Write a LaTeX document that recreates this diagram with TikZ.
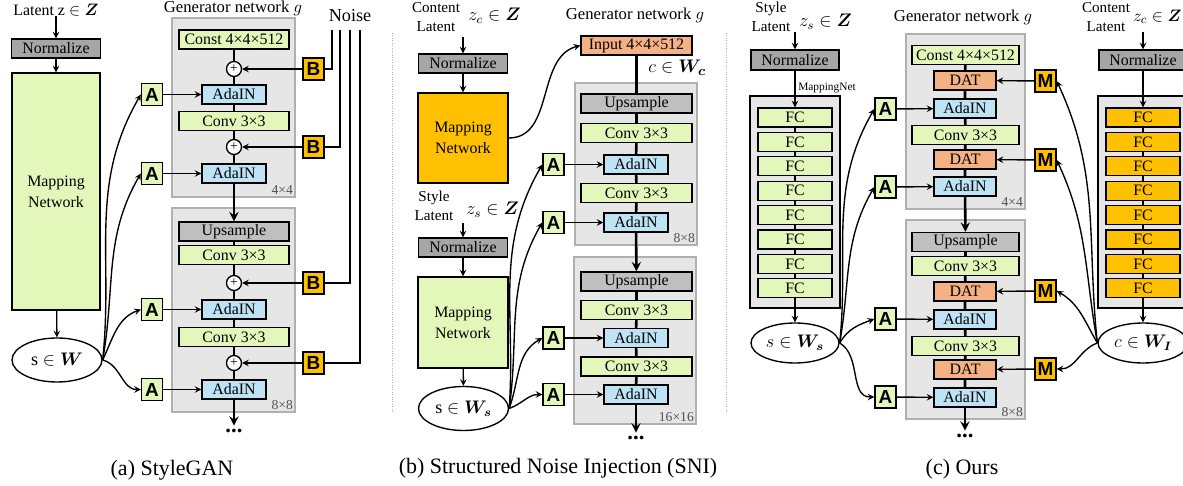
\documentclass[tikz,border=0pt]{standalone}
\usepackage{amsmath,amssymb}
\usepackage{fontspec}
\setmainfont{Liberation Serif}
\setsansfont{Liberation Sans}
\usepackage{tikz}
\usetikzlibrary{arrows,shapes.geometric,positioning}

\newlength\pxu
\setlength\pxu{0.66pt}

\definecolor{lgreen}{HTML}{E4F7BA}
\definecolor{lblue}{HTML}{BDE3F5}
\definecolor{salmon}{HTML}{F4B183}
\definecolor{gold}{HTML}{FFC000}
\definecolor{normgray}{HTML}{A6A6A6}
\definecolor{upgray}{HTML}{BFBFBF}
\definecolor{genfill}{HTML}{E6E6E6}
\definecolor{genborder}{HTML}{B0B0B0}
\definecolor{resgray}{HTML}{505050}

\begin{document}
\begin{tikzpicture}[
            x = 0.66pt, y = -0.66pt, % one unit per pixel, y going down
            > = stealth, % arrow head style
            semithick % line style
        ]

        \tikzstyle{blk}=[draw = black, line width = 0.9pt, inner sep = 0pt,
            minimum height = 19\pxu, font = \fontsize{10.5}{12}\selectfont]
        \tikzstyle{wide}=[minimum width = 110\pxu]
        \tikzstyle{conv}=[blk, fill = lgreen]
        \tikzstyle{ada}=[blk, fill = lblue, minimum width = 64\pxu]
        \tikzstyle{dat}=[blk, fill = salmon, minimum width = 62\pxu]
        \tikzstyle{ups}=[blk, fill = upgray]
        \tikzstyle{norm}=[blk, fill = normgray, minimum width = 89\pxu,
            font = \fontsize{10.5}{12}\selectfont]
        \tikzstyle{lat}=[align = center, inner sep = 0pt,
            font = \fontsize{10}{12.5}\selectfont]
        \tikzstyle{title}=[inner sep = 0pt, font = \fontsize{11}{12}\selectfont]
        \tikzstyle{gen}=[draw = genborder, fill = genfill, line width = 0.8pt, inner sep = 0pt]
        \tikzstyle{res}=[anchor = south east, inner sep = 1.5pt, text = resgray,
            font = \fontsize{9}{10}\selectfont]
        \tikzstyle{plus}=[circle, draw, fill = white, line width = 0.9pt,
            minimum size = 15\pxu, inner sep = 0pt, font = \fontsize{9}{9}\selectfont]
        \tikzstyle{tag}=[draw, line width = 0.9pt, minimum width = 21\pxu,
            minimum height = 22\pxu, inner sep = 0pt,
            font = \sffamily\bfseries\fontsize{12.5}{12}\selectfont]
        \tikzstyle{atag}=[tag, fill = lgreen]
        \tikzstyle{otag}=[tag, fill = gold]
        \tikzstyle{latent}=[ellipse, draw, line width = 0.9pt, inner sep = 0pt,
            minimum width = 90\pxu, minimum height = 44\pxu,
            font = \fontsize{12}{12}\selectfont]
        \tikzstyle{main}=[line width = 1.7pt]
        \tikzstyle{side}=[->, line width = 0.9pt]
        \tikzstyle{wire}=[line width = 0.8pt]
        \tikzstyle{more}=[inner sep = 2pt, font = \bfseries\fontsize{15}{15}\selectfont]
        \tikzstyle{subcap}=[inner sep = 0pt, font = \fontsize{14.5}{16}\selectfont]
        \tikzstyle{sep}=[draw = gray!60, densely dotted, line width = 0.6pt]

        \useasboundingbox (0,0) rectangle (1183,486);

        % (a) StyleGAN
        \node[lat, font = \fontsize{10.5}{12}\selectfont] (lata) at (56,10) {Latent z $\in \boldsymbol{Z}$};
        \node[norm] (norma) at (56,48.5) {Normalize};
        \node[conv, minimum width = 88\pxu, minimum height = 237\pxu, align = center,
            font = \fontsize{10.5}{14}\selectfont] (mapa) at (56,191.5) {Mapping\\Network};
        \node[latent] (sa) at (57,360) {s $\in \boldsymbol{W}$};
        \draw[side] (lata) -- (norma);
        \draw[side] (norma) -- (mapa);
        \draw[side] (mapa) -- (sa);

        \node[title] (gena) at (233,8) {Generator network $g$};
        \node[gen, minimum width = 123\pxu, minimum height = 179\pxu] (ga1) at (233.5,107.5) {};
        \node[res] (ra1) at (ga1.south east) {4×4};
        \node[gen, minimum width = 123\pxu, minimum height = 204\pxu] (ga2) at (233.5,310) {};
        \node[res] (ra2) at (ga2.south east) {8×8};

        \node[conv, wide] (consta) at (234,39.5) {Const 4×4×512};
        \node[plus] (pa1) at (234,69) {+};
        \node[ada] (adaa1) at (234,94.5) {AdaIN};
        \node[conv, wide] (conva1) at (234,121) {Conv 3×3};
        \node[plus] (pa2) at (234,147) {+};
        \node[ada] (adaa2) at (234,173.5) {AdaIN};
        \node[ups, wide] (upsa) at (234,231.5) {Upsample};
        \node[conv, wide] (conva2) at (234,255) {Conv 3×3};
        \node[plus] (pa3) at (234,283) {+};
        \node[ada] (adaa3) at (234,309.5) {AdaIN};
        \node[conv, wide] (conva3) at (234,337) {Conv 3×3};
        \node[plus] (pa4) at (234,363) {+};
        \node[ada] (adaa4) at (234,389.5) {AdaIN};
        \node[more] (dotsa) at (234,431) {...};

        \draw[main] (consta) -- (pa1) -- (adaa1) -- (conva1) -- (pa2) -- (adaa2);
        \draw[main, ->] (adaa2) -- (upsa);
        \draw[main] (upsa) -- (conva2) -- (pa3) -- (adaa3) -- (conva3) -- (pa4) -- (adaa4);
        \draw[main, ->] (adaa4) -- (dotsa);

        \node[title, font = \fontsize{12}{12}\selectfont] (noise) at (350,16) {Noise};
        \coordinate (n1) at (332,30);
        \coordinate (n2) at (340,30);
        \coordinate (n3) at (350,30);
        \coordinate (n4) at (360,30);
        \node[otag] (ba1) at (313.5,69) {B};
        \node[otag] (ba2) at (313.5,147) {B};
        \node[otag] (ba3) at (313.5,283) {B};
        \node[otag] (ba4) at (313.5,363) {B};
        \draw[wire] (n1) |- (ba1);
        \draw[wire] (n2) |- (ba2);
        \draw[wire] (n3) |- (ba3);
        \draw[wire] (n4) |- (ba4);
        \draw[side] (ba1) -- (pa1);
        \draw[side] (ba2) -- (pa2);
        \draw[side] (ba3) -- (pa3);
        \draw[side] (ba4) -- (pa4);

        \node[atag] (aa1) at (152,94.5) {A};
        \node[atag] (aa2) at (152,173.5) {A};
        \node[atag] (aa3) at (152,309.5) {A};
        \node[atag] (aa4) at (152,389.5) {A};
        \draw[side] (aa1) -- (adaa1);
        \draw[side] (aa2) -- (adaa2);
        \draw[side] (aa3) -- (adaa3);
        \draw[side] (aa4) -- (adaa4);
        \draw[side] (sa.east) to[out=84, in=240] (aa1.west);
        \draw[side] (sa.east) to[out=80, in=240] (aa2.west);
        \draw[side] (sa.east) to[out=65, in=200] (aa3.west);
        \draw[side] (sa.east) to[out=-15, in=180] (aa4.west);

        \node[subcap] (capa) at (172,470) {(a) StyleGAN};

        % separators
        \coordinate (sepa1) at (392,33);
        \coordinate (sepa2) at (392,412);
        \coordinate (sepb1) at (726,33);
        \coordinate (sepb2) at (726,412);
        \draw[sep] (sepa1) -- (sepa2);
        \draw[sep] (sepb1) -- (sepb2);

        % (b) SNI
        \node[lat] (contb) at (436,17) {Content\\Latent};
        \node[title, anchor = west, font = \fontsize{12}{12}\selectfont] (zcb) at (468,16) {$z_c \in \boldsymbol{Z}$};
        \coordinate (zcbend) at (463,37);
        \node[norm] (normb1) at (463,63.5) {Normalize};
        \node[blk, fill = gold, minimum width = 90\pxu, minimum height = 90\pxu, align = center,
            font = \fontsize{10.5}{14}\selectfont] (mapb1) at (463,138) {Mapping\\Network};
        \draw[side] (zcbend) -- (normb1);
        \draw[side] (normb1) -- (mapb1);

        \node[lat] (styb) at (434,206) {Style\\Latent};
        \node[title, anchor = west, font = \fontsize{12}{12}\selectfont] (zsb) at (466,210) {$z_s \in \boldsymbol{Z}$};
        \coordinate (zsbend) at (463,223);
        \node[norm] (normb2) at (463,247.5) {Normalize};
        \node[conv, minimum width = 90\pxu, minimum height = 91\pxu, align = center,
            font = \fontsize{10.5}{14}\selectfont] (mapb2) at (463,322.5) {Mapping\\Network};
        \node[latent] (sb) at (463.5,408.5) {s $\in \boldsymbol{W_s}$};
        \draw[side] (zsbend) -- (normb2);
        \draw[side] (normb2) -- (mapb2);
        \draw[side] (mapb2) -- (sb);

        \node[title] (genb) at (635,15) {Generator network $g$};
        \node[blk, fill = salmon, minimum width = 111\pxu] (inb) at (636.5,45.5) {Input 4×4×512};
        \node[title, anchor = west] (cwb) at (648,68) {\fontsize{12.5}{12}\selectfont$c \in \boldsymbol{W_c}$};
        \draw[side] (mapb1.east) to[out=0, in=195] (inb.west);

        \node[gen, minimum width = 122\pxu, minimum height = 162\pxu] (gb1) at (636,164) {};
        \node[res] (rb1) at (gb1.south east) {8×8};
        \node[gen, minimum width = 122\pxu, minimum height = 167\pxu] (gb2) at (635,340.5) {};
        \node[res] (rb2) at (gb2.south east) {16×16};

        \begin{scope}[wide/.style = {minimum width = 111\pxu}]
        \node[ups, wide] (upsb1) at (636.5,103.5) {Upsample};
        \node[conv, wide] (convb1) at (636.5,133) {Conv 3×3};
        \node[ada] (adab1) at (636,164.5) {AdaIN};
        \node[conv, wide] (convb2) at (636.5,193) {Conv 3×3};
        \node[ada] (adab2) at (636,222.5) {AdaIN};
        \node[ups, wide] (upsb2) at (636.5,281.5) {Upsample};
        \node[conv, wide] (convb3) at (636.5,310) {Conv 3×3};
        \node[ada] (adab3) at (636,338) {AdaIN};
        \node[conv, wide] (convb4) at (636.5,366.5) {Conv 3×3};
        \node[ada] (adab4) at (636,394.5) {AdaIN};
        \end{scope}
        \node[more] (dotsb) at (636,438) {...};

        \draw[main] (inb) -- (upsb1) -- (convb1) -- (adab1) -- (convb2) -- (adab2);
        \draw[main, ->] (adab2) -- (upsb2);
        \draw[main] (upsb2) -- (convb3) -- (adab3) -- (convb4) -- (adab4);
        \draw[main, ->] (adab4) -- (dotsb);

        \node[atag] (ab1) at (553.5,164.5) {A};
        \node[atag] (ab2) at (553.5,222.5) {A};
        \node[atag] (ab3) at (553.5,338) {A};
        \node[atag] (ab4) at (553.5,394.5) {A};
        \draw[side] (ab1) -- (adab1);
        \draw[side] (ab2) -- (adab2);
        \draw[side] (ab3) -- (adab3);
        \draw[side] (ab4) -- (adab4);
        \draw[side] (sb.east) to[out=86, in=240] (ab1.west);
        \draw[side] (sb.east) to[out=82, in=240] (ab2.west);
        \draw[side] (sb.east) to[out=70, in=210] (ab3.west);
        \draw[side] (sb.east) to[out=20, in=180] (ab4.west);

        \node[subcap] (capb) at (558,468) {(b) Structured Noise Injection (SNI)};

        % (c) Ours
        \node[lat] (styc) at (771,17) {Style\\Latent};
        \node[title, anchor = west, font = \fontsize{12}{12}\selectfont] (zsc) at (799,22) {$z_s \in \boldsymbol{Z}$};
        \coordinate (zscend) at (795,32);
        \node[norm, minimum width = 88\pxu, minimum height = 20\pxu] (normc1) at (795,60) {Normalize};
        \node[inner sep = 0pt, font = \fontsize{7.5}{8}\selectfont] (mnc) at (827,88) {MappingNet};
        \node[draw, fill = genfill, line width = 1pt, minimum width = 90\pxu,
            minimum height = 212\pxu] (mapc1) at (795,202) {};
        \foreach \i in {1,...,8}
            \node[conv, minimum width = 74\pxu] (fcs\i) at (795,93.1+24.4*\i) {FC};
        \foreach \i in {1,...,7}{
            \pgfmathtruncatemacro\j{\i+1}
            \draw[wire] (fcs\i) -- (fcs\j);
        }
        \node[latent, minimum width = 88\pxu, minimum height = 40\pxu] (sc) at (795,343) {$s \in \boldsymbol{W_s}$};
        \draw[side] (zscend) -- (normc1);
        \draw[side] (normc1) -- (fcs1);
        \draw[side] (fcs8) -- (sc);

        \node[lat] (contc) at (1106,17) {Content\\Latent};
        \node[title, anchor = east, font = \fontsize{11}{12}\selectfont] (zcc) at (1182,17) {$z_c \in \boldsymbol{Z}$};
        \coordinate (zccend) at (1143,32);
        \node[norm, minimum width = 88\pxu, minimum height = 20\pxu] (normc2) at (1143,60) {Normalize};
        \node[draw, fill = genfill, line width = 1pt, minimum width = 90\pxu,
            minimum height = 212\pxu] (mapc2) at (1143,202) {};
        \foreach \i in {1,...,8}
            \node[blk, fill = gold, minimum width = 74\pxu] (fcc\i) at (1143,93.1+24.4*\i) {FC};
        \foreach \i in {1,...,7}{
            \pgfmathtruncatemacro\j{\i+1}
            \draw[wire] (fcc\i) -- (fcc\j);
        }
        \node[latent, minimum width = 90\pxu, minimum height = 40\pxu] (cc) at (1143,343) {$c \in \boldsymbol{W_I}$};
        \draw[side] (zccend) -- (normc2);
        \draw[side] (normc2) -- (fcc1);
        \draw[side] (fcc8) -- (cc);

        \node[title] (genc) at (963,17) {Generator network $g$};
        \node[gen, minimum width = 119\pxu, minimum height = 175\pxu] (gc1) at (965.5,121.5) {};
        \node[res] (rc1) at (gc1.south east) {4×4};
        \node[gen, minimum width = 119\pxu, minimum height = 199\pxu] (gc2) at (965.5,319.5) {};
        \node[res] (rc2) at (gc2.south east) {8×8};

        \begin{scope}[wide/.style = {minimum width = 107\pxu}]
        \node[conv, wide] (constc) at (965.5,55) {Const 4×4×512};
        \node[dat] (datc1) at (965,80.5) {DAT};
        \node[ada, minimum width = 62\pxu] (adac1) at (965,108.5) {AdaIN};
        \node[conv, wide] (convc1) at (965.5,135) {Conv 3×3};
        \node[dat] (datc2) at (965,159.5) {DAT};
        \node[ada, minimum width = 62\pxu] (adac2) at (965,186.5) {AdaIN};
        \node[ups, wide] (upsc) at (965.5,242) {Upsample};
        \node[conv, wide] (convc2) at (965.5,266) {Conv 3×3};
        \node[dat] (datc3) at (965,291.5) {DAT};
        \node[ada, minimum width = 62\pxu] (adac3) at (965,319.5) {AdaIN};
        \node[conv, wide] (convc3) at (965.5,346) {Conv 3×3};
        \node[dat] (datc4) at (965,369.5) {DAT};
        \node[ada, minimum width = 62\pxu] (adac4) at (965,397.5) {AdaIN};
        \end{scope}
        \node[more] (dotsc) at (965,436) {...};

        \draw[main] (constc) -- (datc1) -- (adac1) -- (convc1) -- (datc2) -- (adac2);
        \draw[main, ->] (adac2) -- (upsc);
        \draw[main] (upsc) -- (convc2) -- (datc3) -- (adac3) -- (convc3) -- (datc4) -- (adac4);
        \draw[main, ->] (adac4) -- (dotsc);

        \node[atag] (ac1) at (885.5,109) {A};
        \node[atag] (ac2) at (885.5,187) {A};
        \node[atag] (ac3) at (885.5,319) {A};
        \node[atag] (ac4) at (885.5,397) {A};
        \draw[side] (ac1) -- (adac1);
        \draw[side] (ac2) -- (adac2);
        \draw[side] (ac3) -- (adac3);
        \draw[side] (ac4) -- (adac4);
        \draw[side] (sc.east) to[out=84, in=240] (ac1.west);
        \draw[side] (sc.east) to[out=80, in=240] (ac2.west);
        \draw[side] (sc.east) to[out=60, in=200] (ac3.west);
        \draw[side] (sc.east) to[out=-30, in=180] (ac4.west);

        \node[otag] (mc1) at (1045.5,81) {M};
        \node[otag] (mc2) at (1045.5,160) {M};
        \node[otag] (mc3) at (1045.5,291) {M};
        \node[otag] (mc4) at (1045.5,369) {M};
        \draw[side] (mc1) -- (datc1);
        \draw[side] (mc2) -- (datc2);
        \draw[side] (mc3) -- (datc3);
        \draw[side] (mc4) -- (datc4);
        \draw[side] (cc.west) to[out=96, in=295] (mc1.east);
        \draw[side] (cc.west) to[out=100, in=295] (mc2.east);
        \draw[side] (cc.west) to[out=120, in=330] (mc3.east);
        \draw[side] (cc.west) to[out=200, in=0] (mc4.east);

        \node[subcap] (capc) at (962,469) {(c) Ours};
    \end{tikzpicture}
\end{document}
